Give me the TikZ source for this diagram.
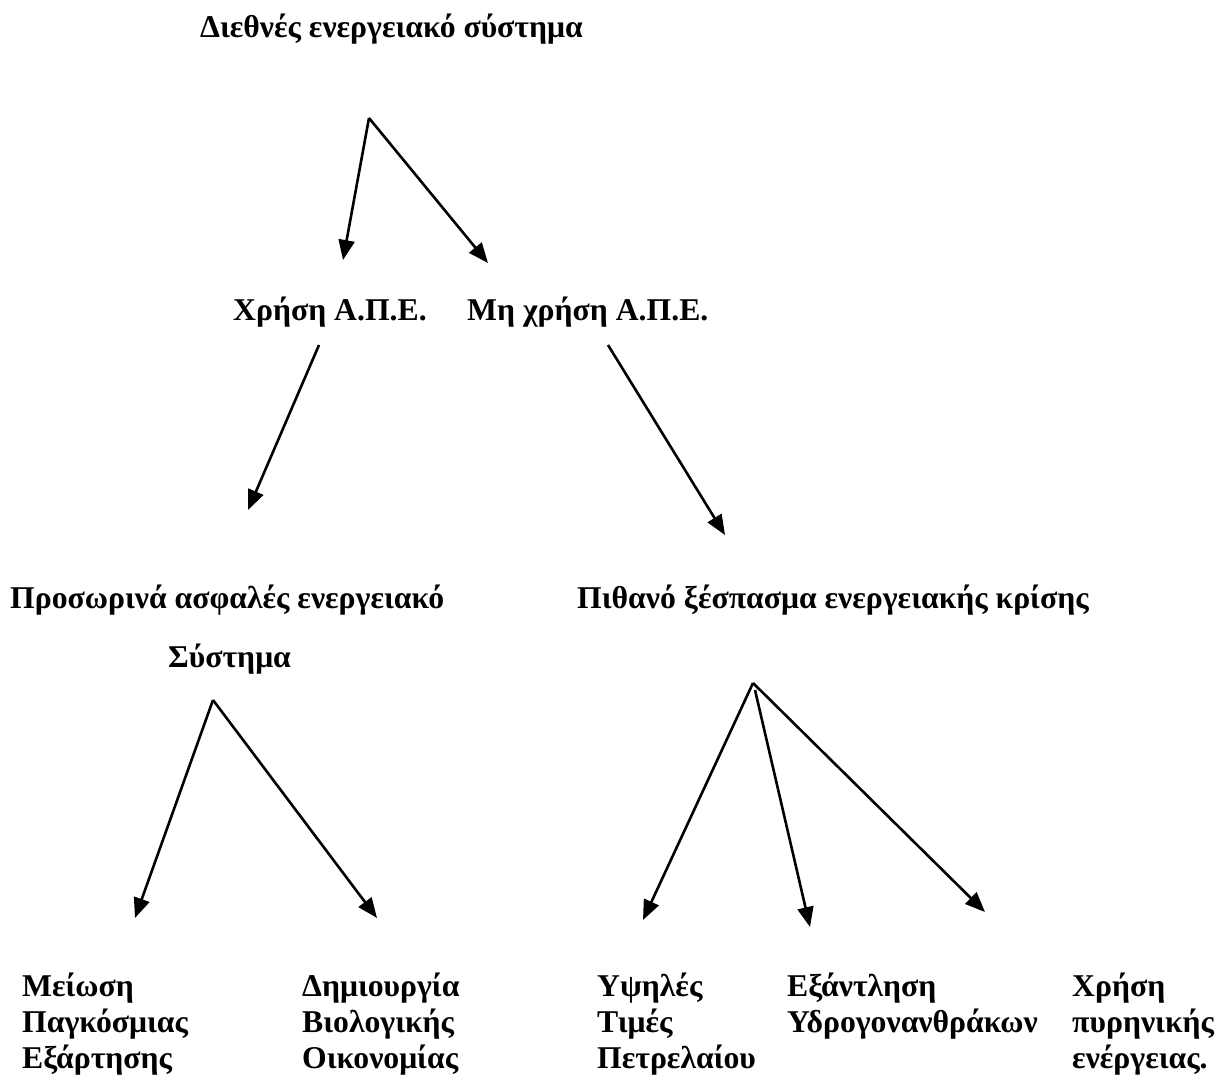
\documentclass[tikz,border=0pt]{standalone}
\usepackage{fontspec}
\setmainfont{Liberation Serif}
\usetikzlibrary{arrows.meta}
\begin{document}
\begin{tikzpicture}[x=1pt,y=-1pt,
  lbl/.style={anchor=base west,inner sep=0pt,align=left,
    font=\fontsize{31.7}{36}\selectfont\bfseries},
  arr/.style={line width=2.6pt,-{Triangle[length=20pt,width=16pt]}}]
\useasboundingbox (0,0) rectangle (1222,1077);
% texts (multi-line nodes are placed at the baseline of their last line)
\node[lbl] (root) at (200,37) {Διεθνές ενεργειακό σύστημα};
\node[lbl] (use) at (233,320) {Χρήση Α.Π.Ε.};
\node[lbl] (nouse) at (467,320) {Μη χρήση Α.Π.Ε.};
\node[lbl] (safe) at (10,608) {Προσωρινά ασφαλές ενεργειακό};
\node[lbl] (safe2) at (168,667) {Σύστημα};
\node[lbl] (crisis) at (577,608) {Πιθανό ξέσπασμα ενεργειακής κρίσης};
\node[lbl] (m1) at (22,1068) {Μείωση\\Παγκόσμιας\\Εξάρτησης};
\node[lbl] (m2) at (302,1068) {Δημιουργία\\Βιολογικής\\Οικονομίας};
\node[lbl] (m3) at (597,1068) {Υψηλές\\Τιμές\\Πετρελαίου};
\node[lbl] (m4) at (787,1032) {Εξάντληση\\Υδρογονανθράκων};
\node[lbl] (m5) at (1072,1068) {Χρήση\\πυρηνικής\\ενέργειας.};
% connector points
\coordinate (t0) at (369,118);
\coordinate (t1) at (343,260);
\coordinate (t2) at (488,263);
\coordinate (a0) at (319,345);
\coordinate (a1) at (248,510);
\coordinate (b0) at (608,345);
\coordinate (b1) at (725,535);
\coordinate (c0) at (213,700);
\coordinate (c1) at (135,918);
\coordinate (c2) at (377,918);
\coordinate (d0) at (753,683);
\coordinate (d1) at (643,920);
\coordinate (e0) at (755,690);
\coordinate (d2) at (810,927);
\coordinate (d3) at (985,912);
% connectors
\draw[arr] (t0) -- (t1);
\draw[arr] (t0) -- (t2);
\draw[arr] (a0) -- (a1);
\draw[arr] (b0) -- (b1);
\draw[arr] (c0) -- (c1);
\draw[arr] (c0) -- (c2);
\draw[arr] (d0) -- (d1);
\draw[arr] (e0) -- (d2);
\draw[arr] (d0) -- (d3);
\end{tikzpicture}
\end{document}
